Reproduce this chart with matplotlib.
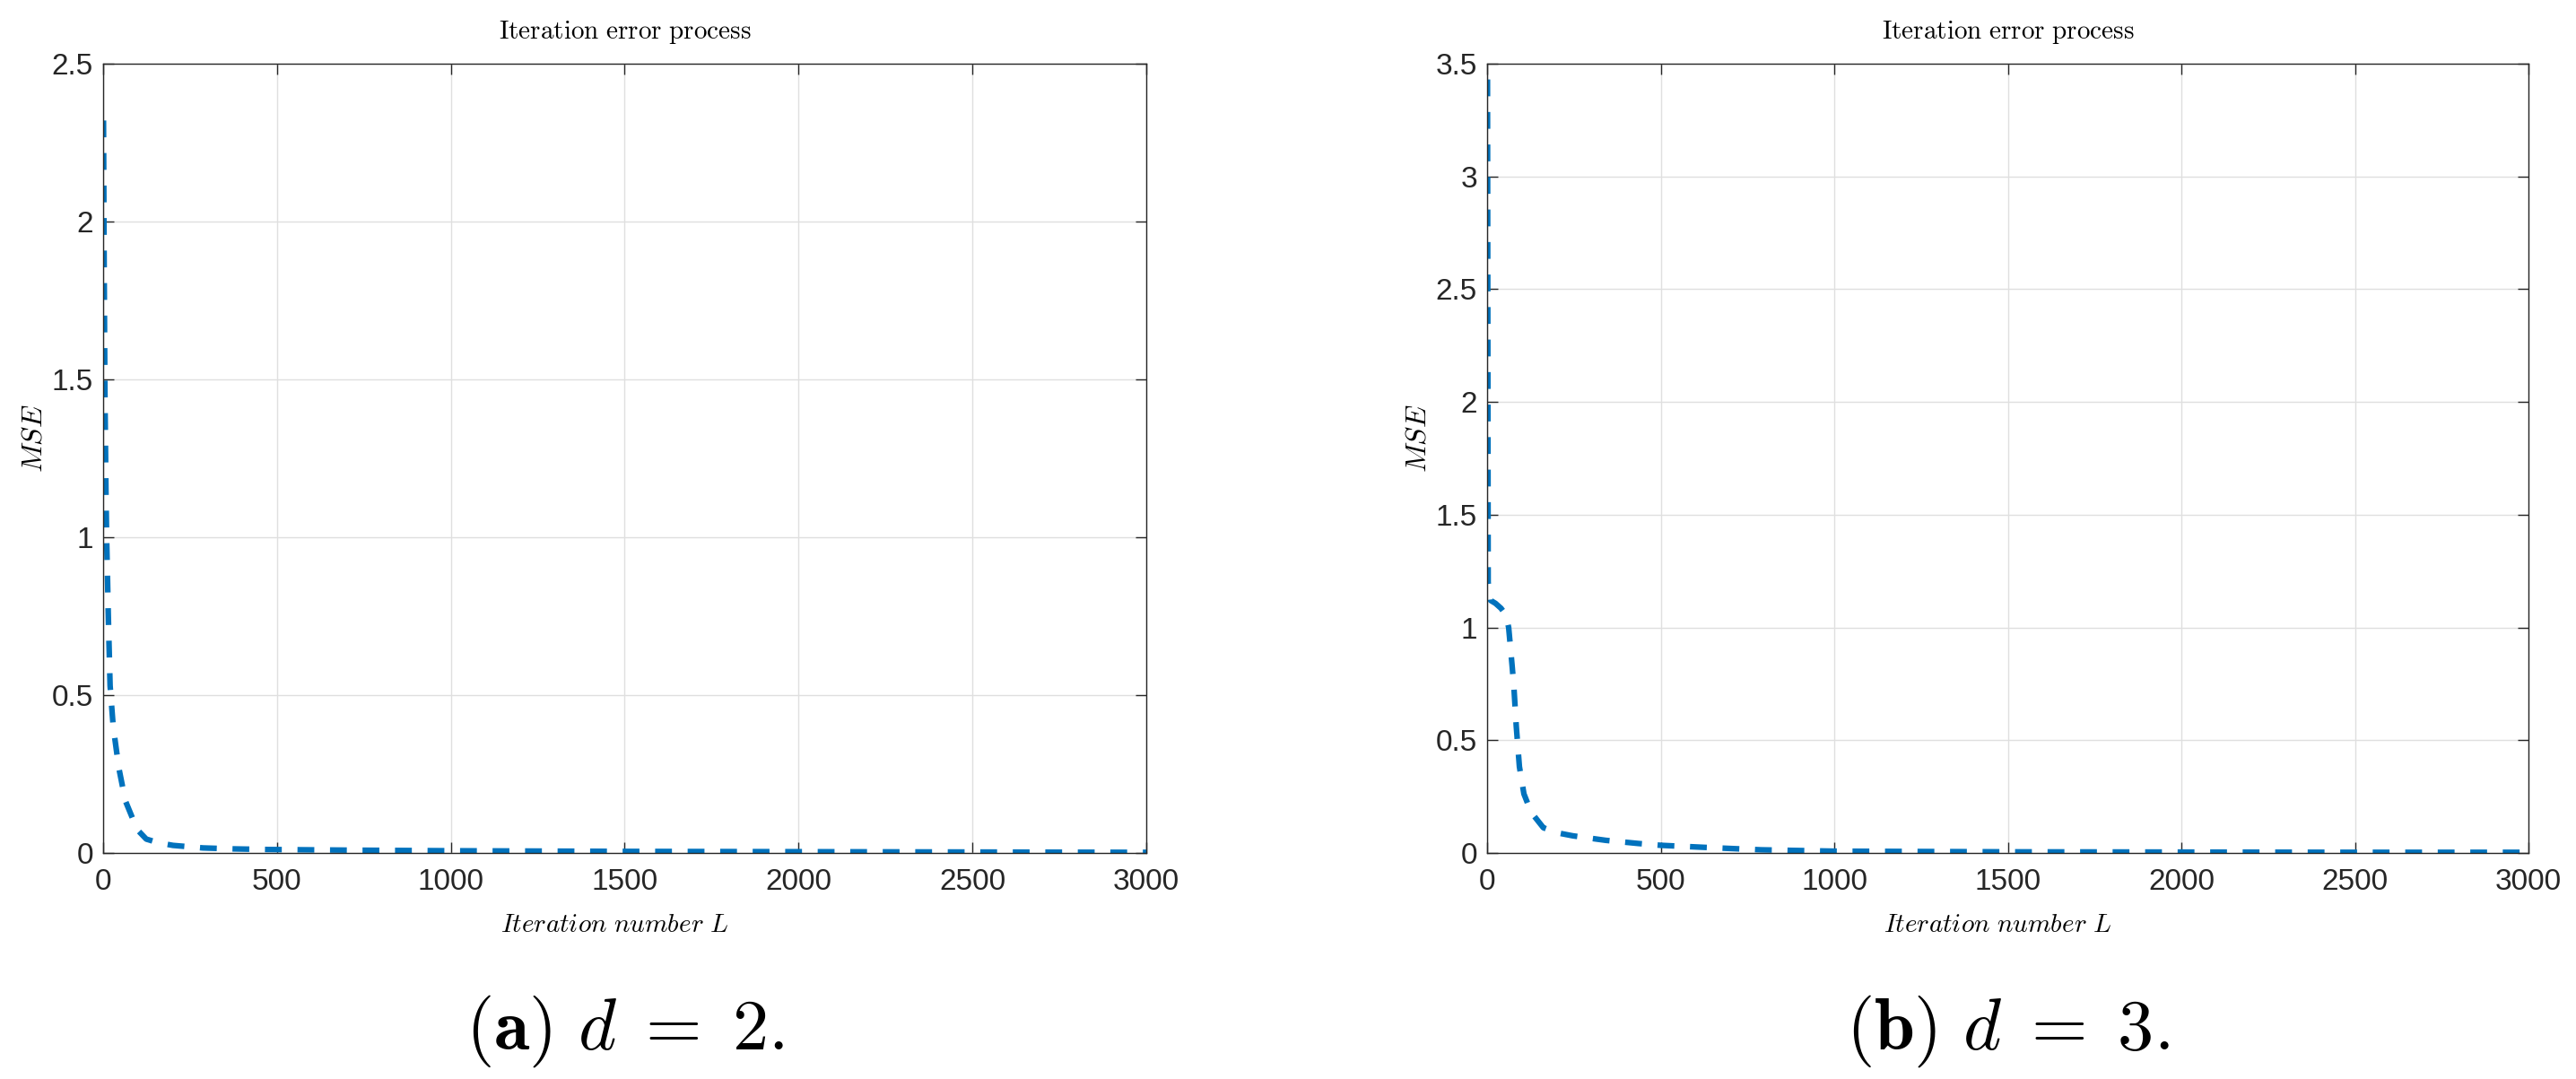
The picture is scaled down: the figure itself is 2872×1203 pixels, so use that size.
import numpy as np
import matplotlib
matplotlib.use('Agg')
import matplotlib.pyplot as plt

plt.rcParams['mathtext.fontset'] = 'cm'
plt.rcParams['font.family'] = ['Liberation Sans Narrow', 'Liberation Sans', 'DejaVu Sans']

# data
iter_a = [1, 3, 5, 8, 10, 15, 20, 29, 45, 64, 98, 124, 160, 201, 287, 373, 472, 700, 1000, 1500, 2000, 2500, 3000]
mse_a = [2.32, 1.85, 1.47, 1.15, 1.0, 0.745, 0.53, 0.40, 0.27, 0.165, 0.074, 0.044, 0.032, 0.024,
         0.016, 0.013, 0.011, 0.009, 0.007, 0.005, 0.004, 0.003, 0.002]

iter_b = [1, 3, 10, 24, 40, 54, 62, 67, 72, 77, 84, 93, 106, 127, 162, 200, 247, 342, 436, 500,
          625, 789, 1000, 1500, 2000, 2500, 3000]
mse_b = [3.43, 1.20, 1.12, 1.107, 1.085, 1.056, 1.0, 0.916, 0.83, 0.739, 0.561, 0.383, 0.262, 0.180,
         0.112, 0.09, 0.076, 0.056, 0.042, 0.034, 0.025, 0.014, 0.008, 0.005, 0.004, 0.003, 0.003]

ylims = [2.5, 3.5]
captions = [r'$\mathbf{(a)}\ d\;=\;2.$', r'$\mathbf{(b)}\ d\;=\;3.$']

fig = plt.figure(figsize=(28.72, 12.03), dpi=100)
ax1 = fig.add_axes([0.04004, 0.20948, 0.40494, 0.73150])
ax2 = fig.add_axes([0.57730, 0.20948, 0.40425, 0.73150])

for ax, x, y, ytop, cap in zip([ax1, ax2], [iter_a, iter_b], [mse_a, mse_b], ylims, captions):
    ax.plot(x, y, color='#0072BD', linewidth=4.5, linestyle=(0, (3.0, 2.8)))
    ax.set_xlim(0, 3000)
    ax.set_ylim(0, ytop)
    ax.set_xticks(np.arange(0, 3001, 500))
    yt = np.arange(0, ytop + 0.01, 0.5)
    ax.set_yticks(yt)
    ax.set_yticklabels(['%g' % v for v in yt])
    ax.grid(True, color='#dfdfdf', linewidth=1.0)
    ax.set_axisbelow(True)
    for s in ax.spines.values():
        s.set_color('#262626')
        s.set_linewidth(1.0)
    ax.tick_params(direction='in', length=8.5, width=1.0, color='#262626',
                   top=True, right=True, labelsize=24, labelcolor='#262626')
    ax.tick_params(axis='x', pad=12)
    ax.tick_params(axis='y', pad=8)
    ax.set_title(r'$\mathrm{Iteration\ error\ process}$', fontsize=21, pad=20)
    ax.set_xlabel(r'$Iteration\ number\ L$', fontsize=21, labelpad=8)
    ax.xaxis.set_label_coords(0.49, -0.075)
    ax.set_ylabel(r'$MSE$', fontsize=23)
    ax.yaxis.set_label_coords(-0.053, 0.525)
    bb = ax.get_position()
    fig.text(bb.x0 + bb.width / 2, 1 - 1170 / 1203, cap, fontsize=58,
             ha='center', va='baseline')

fig.savefig('out.png', dpi=100)
